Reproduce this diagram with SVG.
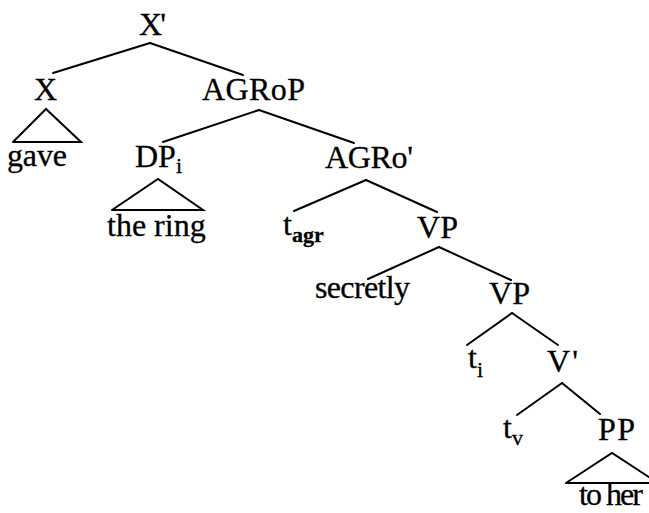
<svg xmlns="http://www.w3.org/2000/svg" width="649" height="513" viewBox="0 0 649 513">
<style>
text { font-family: "Liberation Serif", "Times New Roman", serif; font-size: 32px; fill: #000; stroke: #000; stroke-width: 0.3; }
.sub { font-size: 22px; }
.subb { font-size: 22px; font-weight: bold; }
line, polyline { stroke: #000; stroke-width: 2; fill: none; stroke-linecap: round; }
</style>
<rect width="649" height="513" fill="#fff"/>
<g id="connectors">
<line x1="150" y1="43" x2="53" y2="73"/>
<line x1="150" y1="43" x2="243" y2="75"/>
<line x1="259" y1="110" x2="163" y2="142"/>
<line x1="259" y1="110" x2="354" y2="143"/>
<line x1="366" y1="180" x2="294" y2="211"/>
<line x1="366" y1="180" x2="437" y2="212"/>
<line x1="439" y1="247" x2="368" y2="279"/>
<line x1="439" y1="247" x2="511" y2="280"/>
<line x1="512" y1="313" x2="467" y2="345"/>
<line x1="512" y1="313" x2="558" y2="345"/>
<line x1="562" y1="383" x2="517" y2="415"/>
<line x1="562" y1="383" x2="600" y2="414"/>
</g>
<g id="node-xbar"><text x="139" y="35" textLength="27">X'</text></g>
<g id="node-x"><text x="34" y="100" textLength="21">X</text></g>
<g id="node-gave">
<polyline points="13,142 46,109 81,142 13,142"/>
<text x="7" y="166" textLength="60">gave</text>
</g>
<g id="node-agrop"><text x="202" y="100" textLength="103">AGRoP</text></g>
<g id="node-dpi"><text x="135" y="167">DP<tspan class="sub" dy="6">i</tspan></text></g>
<g id="node-the-ring">
<polyline points="112,210 158,179 203,210 112,210"/>
<text x="107" y="236">the ring</text>
</g>
<g id="node-agrobar"><text x="325" y="168" textLength="88">AGRo'</text></g>
<g id="node-tagr"><text x="283" y="235">t<tspan class="subb" dy="7">agr</tspan></text></g>
<g id="node-vp1"><text x="417" y="238" textLength="41">VP</text></g>
<g id="node-secretly"><text x="315" y="298" textLength="95">secretly</text></g>
<g id="node-vp2"><text x="489" y="304" textLength="41">VP</text></g>
<g id="node-ti"><text x="468" y="368">t<tspan class="sub" dy="9">i</tspan></text></g>
<g id="node-vbar"><text x="547" y="372" textLength="31">V'</text></g>
<g id="node-tv"><text x="503" y="438">t<tspan class="sub" dy="7">v</tspan></text></g>
<g id="node-pp"><text x="598" y="440" textLength="37">PP</text></g>
<g id="node-to-her">
<polyline points="566,483 612,453 658,483 566,483"/>
<text x="579" y="505" font-size="30" textLength="64">to her</text>
</g>
</svg>
